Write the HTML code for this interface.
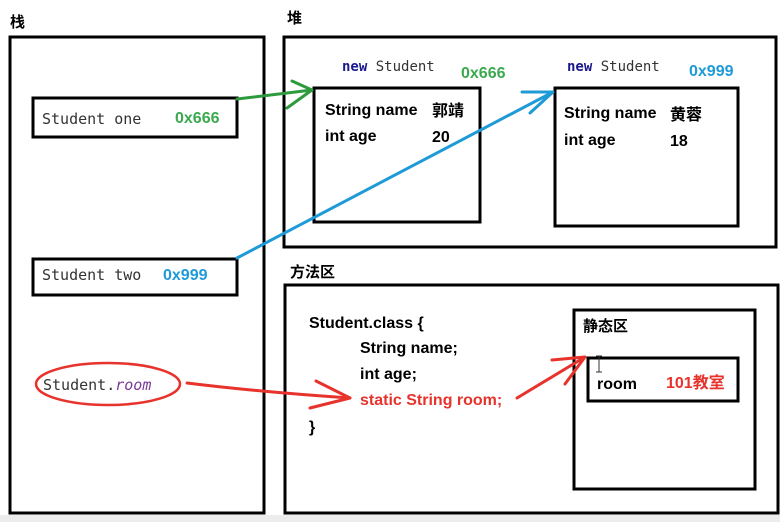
<!DOCTYPE html>
<html><head><meta charset="utf-8"><style>
html,body{margin:0;padding:0;background:#fff;}
body{width:780px;height:522px;overflow:hidden;position:relative;}
svg{position:absolute;left:0;top:0;}
text{font-family:"Liberation Sans","Noto Sans CJK SC",sans-serif;}
.m{font-family:"DejaVu Sans Mono","Liberation Mono",monospace;}
.b{font-weight:bold;}
</style></head><body>
<svg width="780" height="522" viewBox="0 0 780 522">
<rect x="0" y="515" width="780" height="7" fill="#ececec"/>
<text x="10" y="27" font-size="15" class="b">栈</text>
<text x="287" y="23" font-size="15" class="b">堆</text>
<text x="290" y="277" font-size="15" class="b">方法区</text>
<g fill="none" stroke="#000" stroke-width="3">
<rect x="10" y="37" width="254" height="476"/>
<rect x="284" y="37" width="492" height="210"/>
<rect x="285" y="285" width="493" height="228"/>
<rect x="33" y="98" width="204" height="39"/>
<rect x="314" y="88" width="166" height="134"/>
<rect x="555" y="88" width="183" height="138"/>
<rect x="33" y="259" width="204" height="36"/>
<rect x="574" y="310" width="181" height="179"/>
<rect x="588" y="358" width="150" height="43"/>
</g>
<text x="42" y="124" font-size="15" class="m" fill="#333">Student one</text>
<text x="175" y="123" font-size="16" class="b" fill="#3aa94f">0x666</text>
<text x="42" y="280" font-size="15" class="m" fill="#333">Student two</text>
<text x="163" y="280" font-size="16" class="b" fill="#1e9bd7">0x999</text>
<text x="342" y="71" font-size="14" class="m"><tspan fill="#1a1a8c" font-weight="bold">new</tspan><tspan fill="#333"> Student</tspan></text>
<text x="461" y="78" font-size="16" class="b" fill="#3aa94f">0x666</text>
<text x="567" y="71" font-size="14" class="m"><tspan fill="#1a1a8c" font-weight="bold">new</tspan><tspan fill="#333"> Student</tspan></text>
<text x="689" y="76" font-size="16" class="b" fill="#1e9bd7">0x999</text>
<text x="325" y="115" font-size="16" class="b">String name</text>
<text x="432" y="116" font-size="16" class="b">郭靖</text>
<text x="325" y="141" font-size="16" class="b">int age</text>
<text x="432" y="142" font-size="16" class="b">20</text>
<text x="564" y="118" font-size="16" class="b">String name</text>
<text x="670" y="120" font-size="16" class="b">黄蓉</text>
<text x="564" y="145" font-size="16" class="b">int age</text>
<text x="670" y="146" font-size="16" class="b">18</text>
<text x="309" y="328" font-size="16" class="b">Student.class {</text>
<text x="360" y="353" font-size="16" class="b">String name;</text>
<text x="360" y="379" font-size="16" class="b">int age;</text>
<text x="360" y="405" font-size="16" class="b" fill="#e8322c">static String room;</text>
<text x="309" y="432" font-size="16" class="b">}</text>
<text x="583" y="331" font-size="15" class="b">静态区</text>
<text x="597" y="389" font-size="16" class="b">room</text>
<text x="666" y="388" font-size="16" class="b" fill="#e8322c">101教室</text>
<ellipse cx="108" cy="384" rx="72" ry="21" fill="none" stroke="#e8322c" stroke-width="2.5"/>
<text x="43" y="390" font-size="15" class="m" fill="#333">Student.<tspan fill="#7a3a9a" font-style="italic">room</tspan></text>
<g fill="none" stroke-width="3" stroke-linecap="round" stroke-linejoin="round">
<path d="M237 99 L312 90 M292 81 L312 90 L287 108" stroke="#2e9a3e"/>
<path d="M237 258 L553 92 M522 92 L553 92 L530 113" stroke="#1e9bd7"/>
<path d="M187 383 Q260 392 350 398 M316 381 L350 398 L310 408" stroke="#e8322c"/>
<path d="M517 398 L585 357 M552 360 L585 357 L565 384" stroke="#e8322c"/>
</g>
<path d="M599 356 v16 M596 356 h6 M596 372 h6" stroke="#333" stroke-width="1"/>
</svg>
</body></html>
